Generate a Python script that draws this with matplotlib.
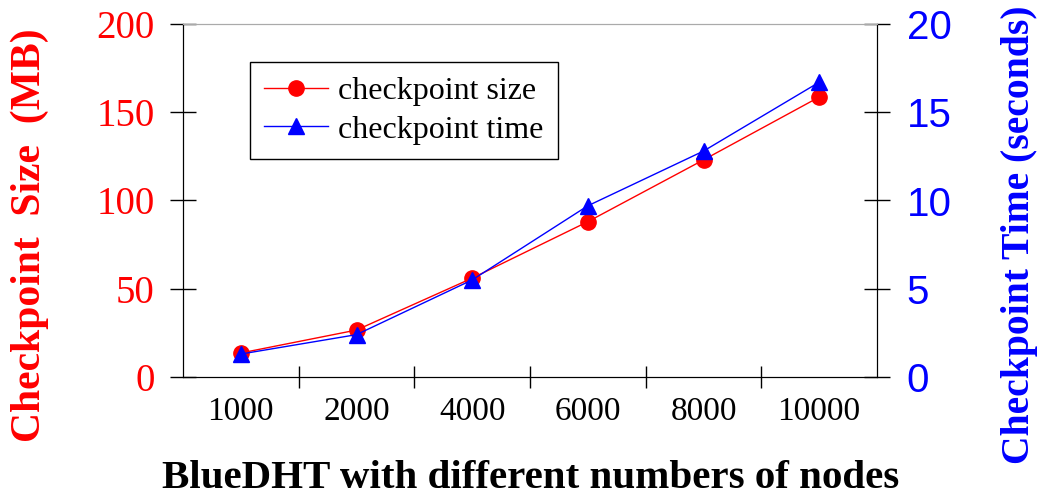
import matplotlib
matplotlib.use("Agg")
import matplotlib.pyplot as plt
import numpy as np

categories = ["1000", "2000", "4000", "6000", "8000", "10000"]
size_mb = [13.6, 26.6, 56.0, 88.0, 123.0, 158.6]
time_s = [1.3, 2.4, 5.5, 9.7, 12.8, 16.7]

serif = "Liberation Serif"
sans = "Liberation Sans"
RED = "#FF0000"
BLUE = "#0000FF"

fig = plt.figure(figsize=(10.37, 4.99), dpi=100)
ax = fig.add_axes([183/1037, 1-377/499, (877-183)/1037, (377-24)/499])
ax2 = ax.twinx()

x = np.arange(len(categories))
l1, = ax.plot(x, size_mb, color=RED, lw=1.0, marker="o", ms=11, mec=RED, mfc=RED,
              label="checkpoint size", zorder=3)
l2, = ax2.plot(x, time_s, color=BLUE, lw=1.0, marker="^", ms=12, mec=BLUE, mfc=BLUE,
               label="checkpoint time", zorder=4)

ax.set_xlim(-0.5, len(categories) - 0.5)
ax.set_ylim(0, 200)
ax2.set_ylim(0, 20)
ax.set_yticks([0, 50, 100, 150, 200])
ax2.set_yticks([0, 5, 10, 15, 20])

ax.set_xticks(x)
ax.set_xticklabels(categories, fontfamily=serif, fontsize=24)
ax.set_xticks(np.arange(0.5, len(categories) - 0.5, 1.0), minor=True)
ax.tick_params(axis="x", which="major", length=0, pad=14)
ax.tick_params(axis="x", which="minor", direction="inout", length=16, width=1, color="black")

ax.tick_params(axis="y", direction="inout", length=19, width=1, pad=11, color="black")
for t in ax.get_yticklabels():
    t.set_fontfamily(serif); t.set_fontsize(28); t.set_color(RED)

ax2.tick_params(axis="y", direction="inout", length=19, width=1, pad=12, color="black")
for t in ax2.get_yticklabels():
    t.set_fontfamily(sans); t.set_fontsize(29); t.set_color(BLUE)

for a in (ax, ax2):
    a.spines["top"].set_color("#aaaaaa")
    a.spines["left"].set_color("black")
    a.spines["right"].set_color("black")
    a.spines["bottom"].set_color("black")

leg = ax.legend(handles=[l1, l2], loc="upper left", bbox_to_anchor=((250-183)/694, 1-(62-24)/353),
                prop={"family": serif, "size": 23}, frameon=True, fancybox=False,
                edgecolor="black", framealpha=1, borderpad=0.45, handlelength=2.0,
                handletextpad=0.3, labelspacing=0.3, borderaxespad=0)
leg.get_frame().set_linewidth(1.0)
leg.set_zorder(5)

fig.text(531/1037, 1-478/499, "BlueDHT with different numbers of nodes", ha="center", va="center",
         fontfamily=serif, fontweight="bold", fontsize=29.5, color="black")
fig.text(30/1037, 1-235/499, "Checkpoint  Size  (MB)", ha="center", va="center", rotation=90,
         fontfamily=serif, fontweight="bold", fontsize=30, color=RED)
fig.text(1019/1037, 1-235/499, "Checkpoint Time (seconds)", ha="center", va="center", rotation=90,
         fontfamily=serif, fontweight="bold", fontsize=28.5, color=BLUE)

fig.savefig("out.png", dpi=100)
